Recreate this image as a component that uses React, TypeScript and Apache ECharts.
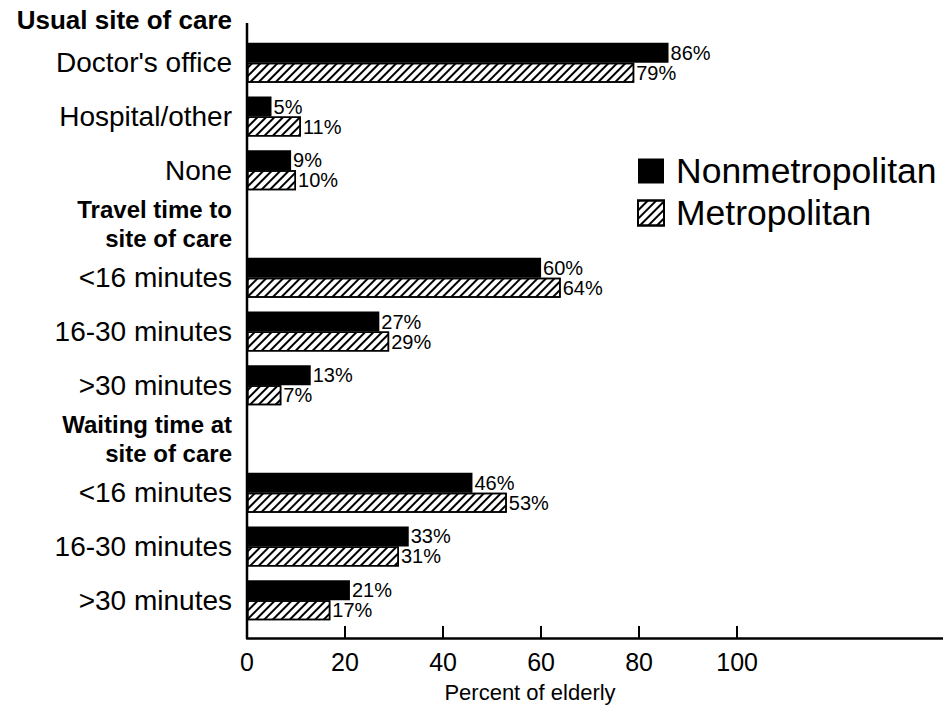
import React, { useEffect, useRef } from "react";
import * as echarts from "echarts";

const sectionTitle = "Usual site of care";
const categories = [
  "Doctor's office",
  "Hospital/other",
  "None",
  "Travel time to\nsite of care",
  "<16 minutes",
  "16-30 minutes",
  ">30 minutes",
  "Waiting time at\nsite of care",
  "<16 minutes",
  "16-30 minutes",
  ">30 minutes",
];
const headerLabels = ["Travel time to\nsite of care", "Waiting time at\nsite of care"];
const nonmetropolitan = [86, 5, 9, null, 60, 27, 13, null, 46, 33, 21];
const metropolitan = [79, 11, 10, null, 64, 29, 7, null, 53, 31, 17];
const xTicks = [0, 20, 40, 60, 80, 100];
const seriesNames = ["Nonmetropolitan", "Metropolitan"];
const xAxisName = "Percent of elderly";

const FONT = "'Liberation Sans', Arial, Helvetica, sans-serif";

export default function App() {
  const ref = useRef<HTMLDivElement>(null);
  useEffect(() => {
    if (!ref.current) return;
    const chart = echarts.init(ref.current, null, { renderer: "svg" });
    const hatch = {
      color: "#000",
      backgroundColor: "#fff",
      symbol: "rect",
      symbolSize: 1,
      dashArrayX: [1, 0],
      dashArrayY: [1.6, 3.2],
      rotation: -Math.PI / 4,
    };
    const barLabel = {
      show: true,
      position: "right",
      distance: 2,
      formatter: "{c}%",
      fontFamily: FONT,
      fontSize: 20,
      color: "#000",
    };
    chart.setOption({
      animation: false,
      backgroundColor: "#fff",
      textStyle: { fontFamily: FONT, color: "#000" },
      grid: { left: 247, right: 0, top: 36, bottom: 82 },
      legend: {
        orient: "vertical",
        left: 632,
        top: 148,
        itemWidth: 26,
        itemHeight: 25,
        itemGap: 6,
        icon: "rect",
        data: seriesNames,
        textStyle: {
          fontFamily: FONT,
          fontSize: 35.5,
          lineHeight: 34,
          color: "#000",
          padding: [0, 0, 0, 7],
        },
      },
      xAxis: {
        type: "value",
        min: 0,
        max: 142,
        offset: 11,
        splitLine: { show: false },
        axisLine: { show: true, lineStyle: { color: "#000", width: 2.5 } },
        axisTick: {
          show: true,
          inside: true,
          length: 12,
          lineStyle: { color: "#000", width: 2 },
          customValues: xTicks,
        },
        axisLabel: {
          customValues: xTicks,
          fontFamily: FONT,
          fontSize: 25,
          color: "#000",
          margin: 11,
        },
        name: xAxisName,
        nameLocation: "middle",
        nameGap: 43,
        nameTextStyle: {
          fontFamily: FONT,
          fontSize: 22,
          color: "#000",
          padding: [0, 130, 0, 0],
        },
      },
      yAxis: {
        type: "category",
        inverse: true,
        data: categories,
        axisLine: { show: false },
        axisTick: { show: false },
        name: sectionTitle,
        nameLocation: "start",
        nameGap: 16,
        nameTextStyle: {
          fontFamily: FONT,
          fontSize: 26,
          fontWeight: "bold",
          color: "#000",
          align: "right",
          verticalAlign: "middle",
          padding: [0, 15, 0, 0],
        },
        axisLabel: {
          margin: 15,
          interval: 0,
          formatter: (value: string) => {
            if (headerLabels.includes(value)) {
              return value
                .split("\n")
                .map((l) => `{h|${l}}`)
                .join("\n");
            }
            return `{n|${value}}`;
          },
          rich: {
            n: { fontFamily: FONT, fontSize: 28, color: "#000", align: "right" },
            h: {
              fontFamily: FONT,
              fontSize: 24,
              fontWeight: "bold",
              color: "#000",
              lineHeight: 29,
              align: "right",
            },
          },
        },
      },
      graphic: [
        {
          type: "line",
          shape: { x1: 247, y1: 23, x2: 247, y2: 638 },
          style: { stroke: "#000", lineWidth: 2.5 },
          silent: true,
        },
      ],
      series: [
        {
          name: seriesNames[0],
          type: "bar",
          data: nonmetropolitan,
          barWidth: 20,
          barGap: "0%",
          itemStyle: { color: "#000" },
          label: barLabel,
        },
        {
          name: seriesNames[1],
          type: "bar",
          data: metropolitan,
          barWidth: 20,
          barGap: "0%",
          itemStyle: { color: "#fff", borderColor: "#000", borderWidth: 1.5, decal: hatch },
          label: barLabel,
        },
      ],
    });
    return () => chart.dispose();
  }, []);
  return (
    <div
      ref={ref}
      style={{ position: "fixed", left: 0, top: 0, width: 943, height: 709 }}
    />
  );
}
